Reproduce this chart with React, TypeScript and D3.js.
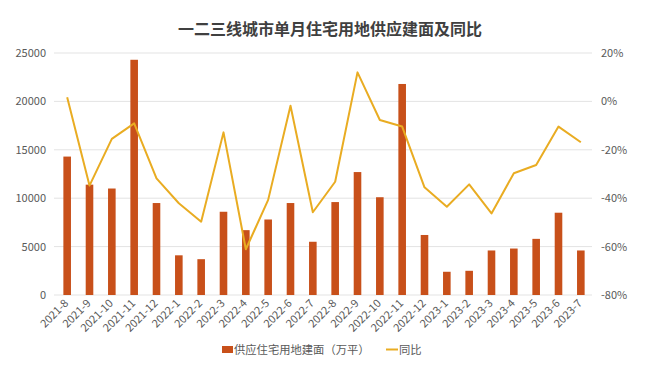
import { useEffect, useRef } from 'react';
import * as d3 from 'd3';

const months = [
  '2021-8', '2021-9', '2021-10', '2021-11', '2021-12',
  '2022-1', '2022-2', '2022-3', '2022-4', '2022-5', '2022-6', '2022-7',
  '2022-8', '2022-9', '2022-10', '2022-11', '2022-12',
  '2023-1', '2023-2', '2023-3', '2023-4', '2023-5', '2023-6', '2023-7',
];

// 供应住宅用地建面（万平）
const supplyArea = [
  14300, 11400, 11000, 24300, 9500,
  4100, 3700, 8600, 6700, 7800, 9500, 5500,
  9600, 12700, 10100, 21800, 6200,
  2400, 2500, 4600, 4800, 5800, 8500, 4600,
];

// 同比 (%)
const yoy = [
  1.7, -34.8, -15.5, -9.1, -31.8,
  -42.1, -49.7, -12.8, -61.1, -40.7, -1.8, -45.8,
  -33.2, 12, -7.7, -10.4, -35.5,
  -43.5, -34.3, -46.3, -29.7, -26.3, -10.4, -16.9,
];

const leftTicks = [0, 5000, 10000, 15000, 20000, 25000];
const rightTicks = [-80, -60, -40, -20, 0, 20];

const W = 662;
const H = 367;
const margin = { top: 53, right: 70, bottom: 72, left: 56 };
const barColor = '#C8501A';
const lineColor = '#E9AC22';
const font = '"Noto Sans CJK SC", "Noto Sans", sans-serif';

const App = () => {
  const svgRef = useRef<SVGSVGElement>(null);

  useEffect(() => {
    if (!svgRef.current) return;
    const svg = d3.select(svgRef.current);
    svg.selectAll('*').remove();

    const x0 = margin.left;
    const x1 = W - margin.right;
    const yTop = margin.top;
    const yBot = H - margin.bottom;

    const x = d3.scaleBand<string>().domain(months).range([x0, x1]).paddingInner(0.66).paddingOuter(0.33);
    const yL = d3.scaleLinear().domain([0, 25000]).range([yBot, yTop]);
    const yR = d3.scaleLinear().domain([-80, 20]).range([yBot, yTop]);

    svg.append('text')
      .attr('x', 330).attr('y', 35)
      .attr('text-anchor', 'middle')
      .attr('font-family', font)
      .attr('font-size', 16).attr('font-weight', 'bold')
      .attr('fill', '#404040')
      .text('一二三线城市单月住宅用地供应建面及同比');

    // grid
    svg.append('g').selectAll('line').data(leftTicks).join('line')
      .attr('x1', x0 - 2).attr('x2', x1)
      .attr('y1', (d) => yL(d)).attr('y2', (d) => yL(d))
      .attr('stroke', '#E3E3E3').attr('stroke-width', 1);

    svg.append('g').selectAll('text').data(leftTicks).join('text')
      .attr('x', 46).attr('y', (d) => yL(d) + 4)
      .attr('text-anchor', 'end')
      .attr('font-family', font).attr('font-size', 11).attr('fill', '#595959')
      .text((d) => String(d));

    svg.append('g').selectAll('text').data(rightTicks).join('text')
      .attr('x', 601).attr('y', (d) => yR(d) + 4)
      .attr('text-anchor', 'start')
      .attr('font-family', font).attr('font-size', 11).attr('fill', '#595959')
      .text((d) => `${d}%`);

    // bars
    svg.append('g').selectAll('rect').data(supplyArea).join('rect')
      .attr('x', (_, i) => x(months[i])!)
      .attr('y', (d) => yL(d))
      .attr('width', x.bandwidth())
      .attr('height', (d) => yBot - yL(d))
      .attr('fill', barColor);

    // line
    const line = d3.line<number>()
      .x((_, i) => x(months[i])! + x.bandwidth() / 2)
      .y((d) => yR(d));
    svg.append('path')
      .attr('d', line(yoy) || '')
      .attr('fill', 'none')
      .attr('stroke', lineColor)
      .attr('stroke-width', 2)
      .attr('stroke-linejoin', 'round');

    // x labels
    svg.append('g').selectAll('text').data(months).join('text')
      .attr('transform', (d) => `translate(${x(d)! + x.bandwidth() / 2 + 2},${yBot + 9}) rotate(-45)`)
      .attr('text-anchor', 'end')
      .attr('font-family', font).attr('font-size', 11).attr('fill', '#595959')
      .text((d) => d);

    // legend
    const lg = svg.append('g');
    lg.append('rect').attr('x', 222).attr('y', 346).attr('width', 11).attr('height', 7).attr('fill', barColor);
    lg.append('text').attr('x', 234).attr('y', 354)
      .attr('font-family', font).attr('font-size', 11.3).attr('fill', '#595959')
      .text('供应住宅用地建面（万平）');
    lg.append('line').attr('x1', 386).attr('x2', 398).attr('y1', 349.5).attr('y2', 349.5)
      .attr('stroke', lineColor).attr('stroke-width', 2);
    lg.append('text').attr('x', 399).attr('y', 354)
      .attr('font-family', font).attr('font-size', 11.3).attr('fill', '#595959')
      .text('同比');
  }, []);

  return (
    <svg
      ref={svgRef}
      width={W}
      height={H}
      style={{ position: 'absolute', left: 0, top: 0, background: '#fff' }}
    />
  );
};

export default App;
